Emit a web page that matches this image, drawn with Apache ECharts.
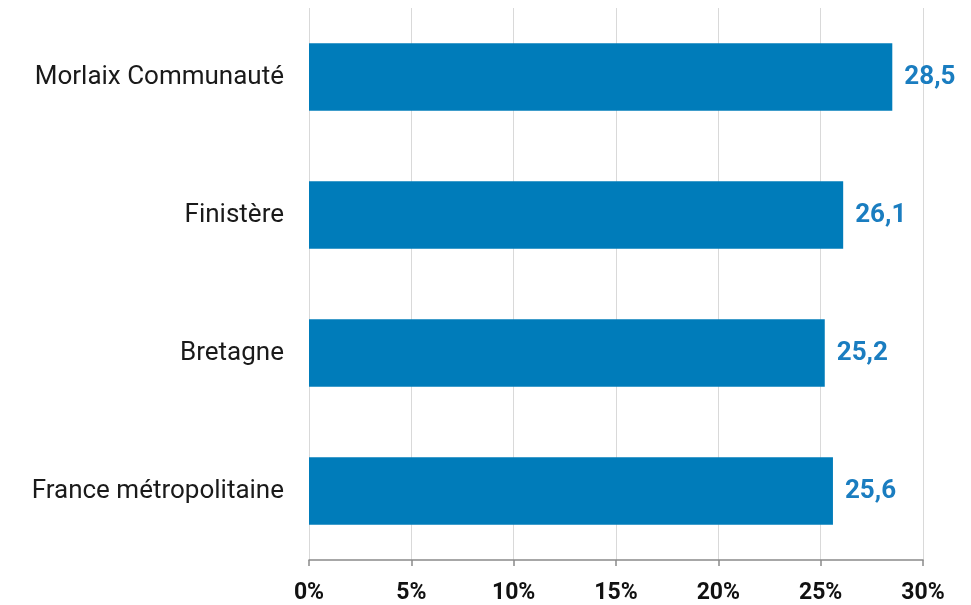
<!DOCTYPE html>
<html>
<head>
<meta charset="utf-8">
<script src="https://cdn.jsdelivr.net/npm/echarts@6/dist/echarts.min.js"></script>
<style>
  html, body { margin: 0; padding: 0; background: #fff; }
  #chart { width: 971px; height: 605px; }
</style>
</head>
<body>
<div id="chart"></div>
<script>
// données
var categories = ['Morlaix Communauté', 'Finistère', 'Bretagne', 'France métropolitaine']
var values = [28.5, 26.1, 25.2, 25.6]
var xTicks = [0, 5, 10, 15, 20, 25, 30]

var chart = echarts.init(document.getElementById('chart'))
chart.setOption({
  backgroundColor: '#fff',
  animation: false,
  grid: {
    left: 309,
    right: 48,
    top: 8,
    bottom: 44
  },
  xAxis: {
    type: 'value',
    min: xTicks[0],
    max: xTicks[xTicks.length - 1],
    interval: 5,
    axisLine: { show: true, lineStyle: { color: '#8a8a8a', width: 1.5 } },
    axisTick: { show: true, length: 6, lineStyle: { color: '#8a8a8a', width: 1.5 } },
    splitLine: { show: true, lineStyle: { color: '#d9d9d9', width: 1 } },
    axisLabel: {
      margin: 22,
      color: '#111',
      fontFamily: 'Roboto',
      fontWeight: 'bold',
      fontSize: 23,
      formatter: function (v) { return v + '%' }
    }
  },
  yAxis: {
    type: 'category',
    inverse: true,
    data: categories,
    axisLine: { show: false },
    axisTick: { show: false },
    axisLabel: {
      margin: 25,
      color: '#1a1a1a',
      fontFamily: 'Roboto',
      fontSize: 26
    }
  },
  series: [{
    type: 'bar',
    data: values,
    barWidth: '49%',
    itemStyle: { color: '#007cba' },
    label: {
      show: true,
      position: 'right',
      distance: 12,
      color: '#1a7dc0',
      fontFamily: 'Roboto',
      fontWeight: 'bold',
      fontSize: 26,
      formatter: function (p) { return String(p.value.toFixed(1)).replace('.', ',') }
    }
  }]
})
</script>
</body>
</html>
